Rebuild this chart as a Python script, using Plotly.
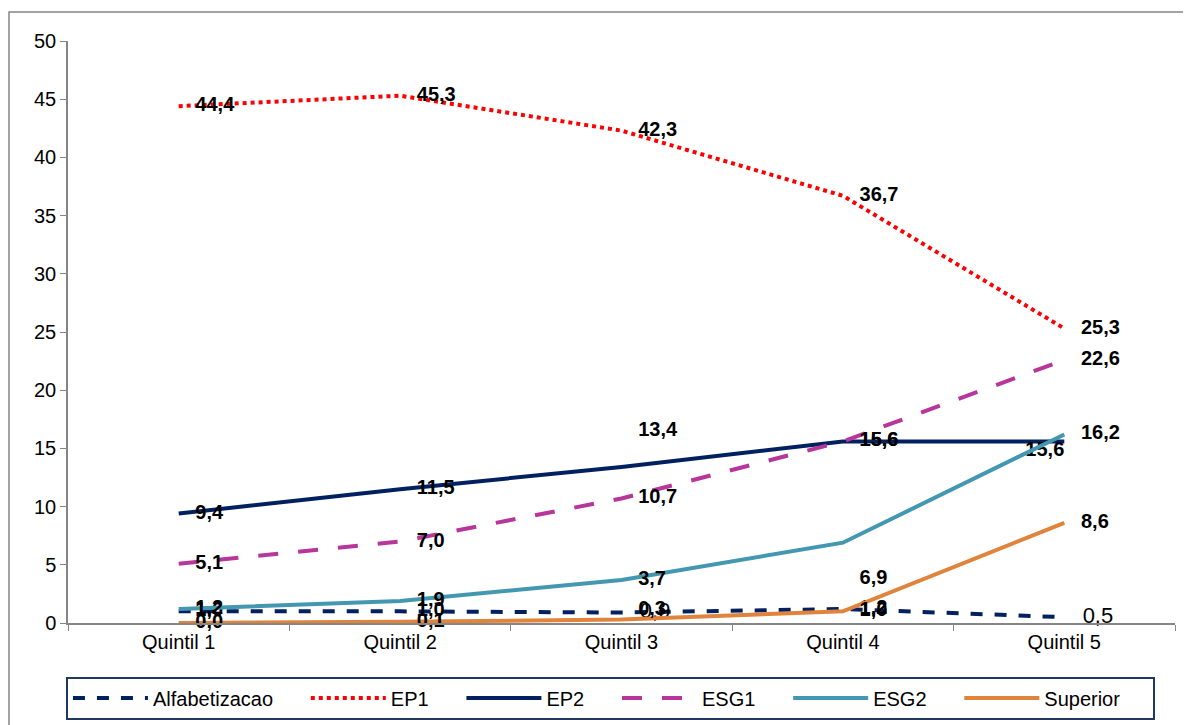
import plotly.graph_objects as go

quintis = ["Quintil 1", "Quintil 2", "Quintil 3", "Quintil 4", "Quintil 5"]

alfabetizacao = [1.0, 1.0, 0.9, 1.2, 0.5]
ep1 = [44.4, 45.3, 42.3, 36.7, 25.3]
ep2 = [9.4, 11.5, 13.4, 15.6, 15.6]
esg1 = [5.1, 7.0, 10.7, 15.6, 22.6]
esg2 = [1.2, 1.9, 3.7, 6.9, 16.2]
superior = [0.0, 0.1, 0.3, 1.0, 8.6]

xs = list(range(len(quintis)))
PAD = "\u00a0\u00a0\u00a0"


def lab(vals, pos, plain=(), far=()):
    out = []
    for i, v in enumerate(vals):
        s = f"{v:.1f}".replace(".", ",")
        if i not in plain:
            s = f"<b>{s}</b>"
        p = pos[i]
        if p.endswith("right"):
            s = PAD + s
        # afasta um pouco mais alguns rótulos acima/abaixo
        if i in far:
            if p.startswith("top"):
                s = s + "<br> "
            elif p.startswith("bottom"):
                s = " <br>" + s
        out.append(s)
    return out


R = "middle right"
series = [
    ("Alfabetizacao", alfabetizacao, "#002060", "dash", [R] * 5, (2, 4), ()),
    ("EP1", ep1, "#FF0000", "dot", [R] * 5, (), ()),
    ("EP2", ep2, "#002060", "solid", [R, R, "top right", R, "bottom left"], (), (2,)),
    ("ESG1", esg1, "#B8369A", "longdash", [R] * 5, (), ()),
    ("ESG2", esg2, "#4397B0", "solid", [R, R, R, "bottom right", R], (), (3,)),
    ("Superior", superior, "#E0843C", "solid", [R, R, "top right", R, R], (), ()),
]

fig = go.Figure()
for name, vals, color, dash, pos, plain, far in series:
    sizes = [22 if i in plain else 20 for i in range(len(vals))]
    fig.add_trace(go.Scatter(
        x=xs, y=vals, name=name + "\u00a0" * 5,
        mode="lines+text",
        line=dict(color=color, width=4, dash=dash),
        text=lab(vals, pos, plain, far),
        textposition=pos,
        textfont=dict(family="Arial", size=sizes, color="black"),
        cliponaxis=False,
    ))

fig.update_layout(
    width=1175, height=717,
    plot_bgcolor="white", paper_bgcolor="white",
    margin=dict(l=60, r=8, t=33, b=102, autoexpand=False),
    font=dict(family="Arial", size=20, color="black"),
    showlegend=True,
    legend=dict(
        orientation="h", x=0.49, xanchor="center", y=-0.092, yanchor="top",
        bordercolor="#1F3864", borderwidth=2,
        font=dict(family="Arial", size=20),
        itemwidth=75, tracegroupgap=0,
    ),
    xaxis=dict(
        range=[-0.5, 4.5], tickvals=xs, ticktext=quintis,
        showline=True, linecolor="#868686", linewidth=1.5,
        ticks="", showgrid=False, zeroline=False,
        tickfont=dict(size=20),
        minor=dict(tickvals=[-0.5, 0.5, 1.5, 2.5, 3.5, 4.5], ticks="outside",
                   ticklen=6, tickcolor="#868686", showgrid=False),
    ),
    yaxis=dict(
        range=[0, 50], dtick=5,
        showline=True, linecolor="#868686", linewidth=1.5,
        ticks="outside", ticklen=6, tickcolor="#868686",
        showgrid=False, zeroline=False,
        tickfont=dict(size=20),
    ),
)

# moldura da área do gráfico (só esquerda e topo ficam visíveis)
fig.add_shape(type="path", xref="paper", yref="paper",
              path="M -0.0533,-0.2 L -0.0533,1.0498 L 1.05,1.0498",
              line=dict(color="#868686", width=1.5))

fig.write_html("out.html")
